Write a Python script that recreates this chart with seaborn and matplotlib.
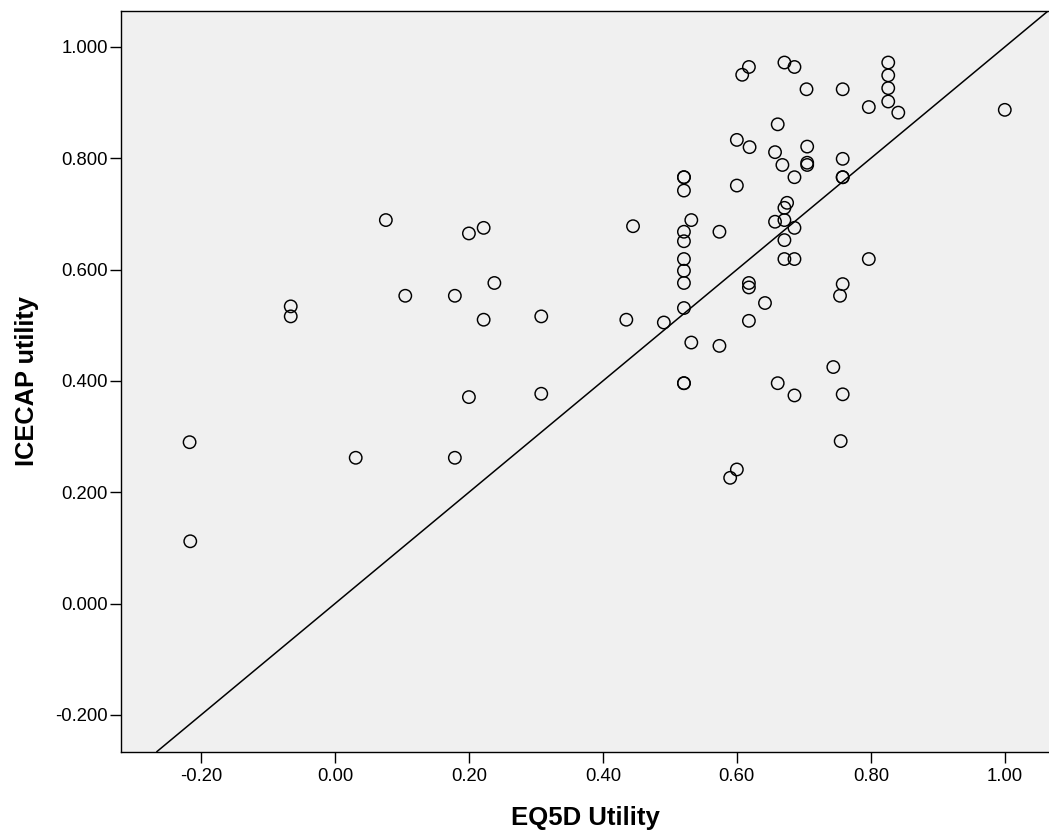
import matplotlib
matplotlib.use("Agg")
import matplotlib.pyplot as plt
import seaborn as sns
import pandas as pd
from matplotlib.ticker import FormatStrFormatter

# Data
eq5d_utility = [
    -0.217, -0.216, -0.066, -0.066, 0.031, 0.076, 0.105, 0.179, 0.179, 0.200,
    0.200, 0.222, 0.222, 0.238, 0.308, 0.308, 0.435, 0.445, 0.491,
    0.521, 0.521, 0.521, 0.521, 0.521, 0.521, 0.521, 0.521, 0.521, 0.521, 0.521,
    0.532, 0.532, 0.574, 0.574, 0.590, 0.600, 0.600, 0.600, 0.608, 0.618,
    0.619, 0.618, 0.618, 0.618, 0.642, 0.657, 0.657, 0.661, 0.661, 0.668,
    0.671, 0.671, 0.671, 0.671, 0.671, 0.675, 0.686, 0.686, 0.686, 0.686,
    0.686, 0.704, 0.705, 0.705, 0.705, 0.744, 0.754, 0.755, 0.758, 0.758,
    0.758, 0.758, 0.758, 0.758, 0.797, 0.797, 0.826, 0.826, 0.826, 0.826,
    0.841, 1.000,
]
icecap_utility = [
    0.290, 0.112, 0.534, 0.516, 0.262, 0.689, 0.553, 0.553, 0.262, 0.665,
    0.371, 0.675, 0.510, 0.576, 0.516, 0.377, 0.510, 0.678, 0.505,
    0.766, 0.766, 0.742, 0.668, 0.651, 0.619, 0.598, 0.576, 0.531, 0.396, 0.396,
    0.689, 0.469, 0.668, 0.463, 0.226, 0.241, 0.833, 0.751, 0.950, 0.964,
    0.820, 0.576, 0.568, 0.508, 0.540, 0.811, 0.686, 0.861, 0.396, 0.788,
    0.972, 0.711, 0.689, 0.653, 0.619, 0.720, 0.964, 0.766, 0.675, 0.619,
    0.374, 0.924, 0.821, 0.792, 0.788, 0.425, 0.553, 0.292, 0.924, 0.799,
    0.766, 0.766, 0.574, 0.376, 0.892, 0.619, 0.972, 0.949, 0.926, 0.902,
    0.882, 0.887,
]
x_ticks = [-0.20, 0.00, 0.20, 0.40, 0.60, 0.80, 1.00]
y_ticks = [-0.200, 0.000, 0.200, 0.400, 0.600, 0.800, 1.000]
x_label = "EQ5D Utility"
y_label = "ICECAP utility"

df = pd.DataFrame({"eq5d": eq5d_utility, "icecap": icecap_utility})

sns.set_style("ticks", {"axes.facecolor": "#F0F0F0", "axes.edgecolor": "black",
                        "text.color": "black", "axes.labelcolor": "black",
                        "xtick.color": "black", "ytick.color": "black"})
plt.rcParams["font.family"] = ["Liberation Sans", "DejaVu Sans"]
plt.rcParams["axes.unicode_minus"] = False

fig = plt.figure(figsize=(10.49, 8.32), dpi=100)
ax = fig.add_axes([0.1156, 0.0965, 1.0 - 0.1156, 0.9864 - 0.0965])

sns.scatterplot(data=df, x="eq5d", y="icecap", ax=ax, marker="o", s=80,
                facecolors="none", edgecolor="black", linewidth=1.05,
                zorder=3)

ax.axline((0, 0), slope=1, color="black", linewidth=1.1, zorder=2)

ax.set_xlim(-0.319, 1.066)
ax.set_ylim(-0.266, 1.064)
ax.set_xticks(x_ticks)
ax.set_yticks(y_ticks)
ax.xaxis.set_major_formatter(FormatStrFormatter("%.2f"))
ax.yaxis.set_major_formatter(FormatStrFormatter("%.3f"))

for s in ["left", "bottom", "top"]:
    ax.spines[s].set_linewidth(1.0)
    ax.spines[s].set_color("black")
ax.spines["right"].set_visible(False)

ax.tick_params(axis="both", direction="out", length=8, width=1.0,
               colors="black", labelcolor="black", labelsize=13.3)
ax.tick_params(axis="x", pad=4)
ax.tick_params(axis="y", pad=1.5)

ax.set_xlabel(x_label, fontsize=18.5, fontweight="bold", labelpad=15,
              color="black")
ax.set_ylabel(y_label, fontsize=18.3, fontweight="bold", labelpad=12,
              color="black")

fig.savefig("out.png", dpi=100)
